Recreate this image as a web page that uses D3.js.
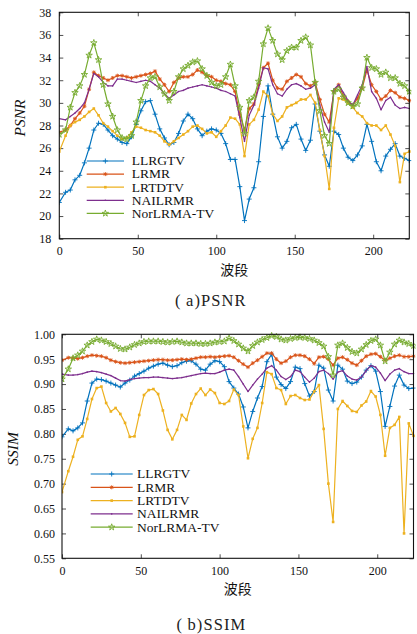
<!DOCTYPE html>
<html>
<head>
<meta charset="utf-8">
<script src="https://cdn.jsdelivr.net/npm/d3@7/dist/d3.min.js"></script>
<style>
  html, body { margin: 0; padding: 0; background: #ffffff; }
  svg { display: block; }
</style>
</head>
<body>
<svg id="chart" width="417" height="634"></svg>
<script>
// ---------------- DATA ----------------
const bands = [0,4,7,10,13,16,19,22,25,28, 31,34,37,40,43,46,49,52,55,58,
  61,64,67,70,73,76,79,82,85,88, 91,94,97,100,103,106,109,112,115,118,
  121,124,127,130,133,136,139,142,145,148, 151,154,157,160,163,166,169,172,175,178,
  181,184,187,190,193,196,199,202,205,208, 211,214,217,220,223];

const methods = ["LLRGTV", "LRMR", "LRTDTV", "NAILRMR", "NorLRMA-TV"];

const xTicks = [0, 50, 100, 150, 200];
const psnrTicks = [18, 20, 22, 24, 26, 28, 30, 32, 34, 36, 38];
const ssimTicks = [0.55, 0.60, 0.65, 0.70, 0.75, 0.80, 0.85, 0.90, 0.95, 1.00];

const psnrLLRGTV = [21.2,22.1,22.3,23.2,23.6,24.7,26.0,27.6,28.2,28.1,
  27.6,27.1,26.8,26.5,26.4,27.0,28.1,29.3,30.1,30.2,
  29.0,27.7,26.9,26.3,26.5,27.3,28.4,29.0,28.6,27.7,
  27.1,27.5,27.7,27.6,27.3,26.4,25.0,25.0,22.6,19.6,
  21.5,22.5,24.8,28.8,31.5,29.0,27.0,26.0,26.6,27.8,
  28.1,26.8,25.8,26.7,29.9,27.5,25.4,24.4,27.5,27.2,
  26.0,25.2,24.9,25.4,26.2,28.1,26.6,24.8,24.0,25.3,
  25.9,26.4,25.3,25.1,24.9];
const psnrLRMR = [27.4,27.6,28.0,28.6,29.1,29.7,31.2,32.7,32.4,32.2,
  32.0,32.2,32.4,32.4,32.3,32.2,32.3,32.4,32.5,32.6,
  32.8,32.1,31.6,31.0,31.8,32.2,32.3,32.3,32.5,32.9,
  32.7,32.4,32.3,32.0,31.9,31.7,31.6,31.0,29.0,27.6,
  29.5,29.9,31.6,33.1,33.5,32.0,31.3,31.2,31.9,32.2,
  32.5,32.3,31.7,31.5,31.8,30.3,29.0,28.3,31.0,31.6,
  30.6,30.1,29.8,30.4,31.3,32.9,31.6,31.0,30.3,30.6,
  31.1,30.9,30.5,30.4,30.2];
const psnrLRTDTV = [25.7,27.1,28.0,28.3,28.5,28.8,29.2,29.5,28.9,28.2,
  27.9,27.5,27.1,26.8,26.9,27.4,27.9,27.8,27.6,27.5,
  27.4,27.1,26.6,26.3,26.6,26.9,27.2,27.5,27.9,28.0,
  27.7,27.3,27.4,27.0,27.5,28.0,28.7,28.6,28.1,25.3,
  28.1,28.5,29.4,31.0,30.6,29.0,28.4,28.8,29.6,29.8,
  30.0,30.3,30.3,30.7,30.0,27.6,25.3,22.4,27.8,30.4,
  30.3,30.0,29.6,29.1,28.8,28.2,28.0,28.0,27.6,28.0,
  27.2,26.2,23.0,25.5,25.7];
const psnrNAILRMR = [28.6,28.5,28.8,29.1,29.5,30.0,31.2,32.6,32.3,31.8,
  31.5,31.5,32.1,32.1,32.0,31.9,31.8,31.9,32.0,31.9,
  31.6,31.3,30.8,30.4,30.7,31.0,31.1,31.3,31.4,31.5,
  31.6,31.5,31.4,31.3,31.1,31.0,30.8,30.6,28.7,26.6,
  28.9,29.8,31.3,33.1,33.0,31.6,30.8,30.6,31.2,31.6,
  31.7,31.5,31.2,31.3,31.6,29.8,28.3,27.4,31.2,31.6,
  30.9,30.2,29.8,30.7,31.6,33.2,31.0,30.4,29.4,30.2,
  30.5,29.8,29.5,29.6,29.5];
const psnrNorLRMATV = [27.2,27.6,29.6,30.9,31.5,32.5,34.2,35.3,33.8,31.6,
  29.9,28.8,27.6,26.9,26.8,27.1,28.3,30.2,31.5,32.2,
  32.3,31.4,30.8,30.2,31.0,32.3,33.0,33.3,33.6,33.7,
  33.0,32.4,31.8,31.5,31.6,32.3,33.4,31.5,29.6,27.3,
  30.2,30.5,31.9,35.2,36.6,35.5,34.3,33.8,34.6,34.9,
  34.9,35.5,35.8,35.1,31.8,29.3,27.1,26.4,31.0,31.2,
  30.5,30.0,29.7,29.9,31.3,34.0,33.1,33.0,32.5,32.7,
  32.2,32.2,31.7,31.5,31.0];

const ssimLLRGTV = [0.794,0.810,0.806,0.812,0.822,0.866,0.902,0.910,0.909,0.906,
  0.902,0.898,0.894,0.902,0.908,0.916,0.921,0.926,0.932,0.936,
  0.940,0.942,0.938,0.935,0.937,0.943,0.946,0.947,0.940,0.930,
  0.928,0.940,0.947,0.945,0.935,0.905,0.892,0.880,0.854,0.812,
  0.845,0.872,0.895,0.945,0.960,0.914,0.899,0.891,0.905,0.934,
  0.931,0.901,0.876,0.885,0.938,0.932,0.888,0.866,0.938,0.930,
  0.906,0.901,0.904,0.914,0.928,0.937,0.926,0.885,0.815,0.855,
  0.896,0.918,0.898,0.891,0.892];
const ssimLRMR = [0.948,0.953,0.952,0.951,0.953,0.956,0.958,0.957,0.956,0.953,
  0.948,0.945,0.943,0.942,0.943,0.944,0.945,0.946,0.947,0.948,
  0.949,0.949,0.948,0.948,0.949,0.950,0.949,0.950,0.952,0.954,
  0.954,0.955,0.954,0.955,0.956,0.957,0.954,0.947,0.940,0.934,
  0.942,0.948,0.955,0.962,0.962,0.950,0.942,0.946,0.954,0.958,
  0.958,0.956,0.950,0.941,0.954,0.955,0.950,0.938,0.952,0.954,
  0.949,0.942,0.938,0.947,0.956,0.960,0.961,0.955,0.948,0.952,
  0.956,0.958,0.955,0.955,0.956];
const ssimLRTDTV = [0.683,0.725,0.754,0.788,0.795,0.830,0.870,0.892,0.895,0.862,
  0.845,0.852,0.840,0.822,0.794,0.795,0.838,0.878,0.888,0.890,
  0.880,0.847,0.808,0.789,0.808,0.838,0.828,0.861,0.880,0.891,
  0.878,0.889,0.882,0.862,0.860,0.866,0.889,0.878,0.815,0.751,
  0.790,0.812,0.862,0.924,0.920,0.892,0.888,0.860,0.876,0.878,
  0.872,0.868,0.869,0.885,0.898,0.810,0.700,0.623,0.850,0.866,
  0.856,0.846,0.844,0.857,0.865,0.886,0.875,0.838,0.756,0.812,
  0.818,0.834,0.600,0.821,0.796];
const ssimNAILRMR = [0.920,0.918,0.918,0.919,0.921,0.924,0.926,0.925,0.923,0.920,
  0.917,0.912,0.907,0.906,0.909,0.911,0.912,0.913,0.913,0.914,
  0.914,0.913,0.912,0.911,0.912,0.913,0.915,0.917,0.919,0.921,
  0.922,0.921,0.921,0.924,0.928,0.930,0.928,0.915,0.900,0.885,
  0.898,0.910,0.920,0.932,0.937,0.928,0.915,0.909,0.915,0.928,
  0.925,0.914,0.904,0.912,0.925,0.928,0.921,0.910,0.924,0.927,
  0.916,0.910,0.908,0.914,0.927,0.937,0.934,0.922,0.907,0.920,
  0.928,0.931,0.925,0.921,0.921];
const ssimNorLRMATV = [0.910,0.930,0.952,0.958,0.966,0.978,0.985,0.990,0.988,0.985,
  0.981,0.976,0.971,0.970,0.974,0.979,0.982,0.985,0.986,0.986,
  0.986,0.985,0.984,0.985,0.986,0.984,0.982,0.982,0.982,0.981,
  0.981,0.982,0.984,0.985,0.986,0.992,0.987,0.980,0.972,0.966,
  0.977,0.984,0.989,0.993,0.997,0.995,0.990,0.988,0.991,0.993,
  0.994,0.993,0.991,0.988,0.983,0.976,0.955,0.918,0.978,0.982,
  0.973,0.965,0.962,0.970,0.979,0.987,0.990,0.978,0.946,0.964,
  0.980,0.988,0.984,0.981,0.977];

// ---------------- STYLE ----------------
const colors = {"LLRGTV": "#0072BD", "LRMR": "#D95319", "LRTDTV": "#EDB120", "NAILRMR": "#7E2F8E", "NorLRMA-TV": "#77AC30"};
const markers = {"LLRGTV": "plus", "LRMR": "asterisk", "LRTDTV": "square", "NAILRMR": "dot", "NorLRMA-TV": "star"};
const SERIF = '"Liberation Serif", "Times New Roman", serif';
const CJK = '"Noto Sans CJK SC", sans-serif';

const charts = [
  { series: [psnrLLRGTV, psnrLRMR, psnrLRTDTV, psnrNAILRMR, psnrNorLRMATV],
    yTicks: psnrTicks, fmt: d3.format("d"), yDomain: [18, 38],
    box: {left: 59.3, right: 409.3, top: 12.3, bottom: 238.7},
    ylabel: "PSNR", ylabelPos: [25, 118], xlabelY: 275, caption: "(\u2009a)PSNR", captionX: 175, captionY: 306,
    legend: {x1: 86.7, x2: 124, tx: 131.7, y0: 161, dy: 13.1}, padY: 8 },
  { series: [ssimLLRGTV, ssimLRMR, ssimLRTDTV, ssimNAILRMR, ssimNorLRMATV],
    yTicks: ssimTicks, fmt: d3.format(".2f"), yDomain: [0.55, 1.00],
    box: {left: 62, right: 413.5, top: 334.3, bottom: 558.3},
    ylabel: "SSIM", ylabelPos: [18, 449], xlabelY: 594, caption: "(\u2009b)SSIM", captionX: 176.5, captionY: 630,
    legend: {x1: 90.7, x2: 132.7, tx: 137, y0: 474, dy: 13.3}, padY: 7 }
];

const svg = d3.select("#chart");
const starSym = d3.symbol().type(d3.symbolStar).size(13);

function drawMarker(g, type, color, cx, cy) {
  if (type === "plus") {
    g.append("path").attr("d", `M${cx-2.5},${cy}H${cx+2.5}M${cx},${cy-2.5}V${cy+2.5}`)
      .attr("stroke", color).attr("stroke-width", 0.9).attr("fill", "none");
  } else if (type === "asterisk") {
    const r = 2, d = 1.45;
    g.append("path").attr("d", `M${cx-r},${cy}H${cx+r}M${cx},${cy-r}V${cy+r}M${cx-d},${cy-d}L${cx+d},${cy+d}M${cx-d},${cy+d}L${cx+d},${cy-d}`)
      .attr("stroke", color).attr("stroke-width", 0.9).attr("fill", "none");
  } else if (type === "square") {
    g.append("rect").attr("x", cx - 1.3).attr("y", cy - 1.3).attr("width", 2.6).attr("height", 2.6)
      .attr("fill", color);
  } else if (type === "dot") {
    g.append("circle").attr("cx", cx).attr("cy", cy).attr("r", 0.8).attr("fill", color);
  } else if (type === "star") {
    g.append("path").attr("d", starSym).attr("transform", `translate(${cx},${cy})`)
      .attr("fill", "none").attr("stroke", color).attr("stroke-width", 0.9);
  }
}

charts.forEach(cfg => {
  const b = cfg.box;
  const x = d3.scaleLinear().domain([0, 223]).range([b.left, b.right]);
  const y = d3.scaleLinear().domain(cfg.yDomain).range([b.bottom, b.top]);
  const g = svg.append("g");

  // axes with inward ticks on all four sides
  const axB = g.append("g").attr("transform", `translate(0,${b.bottom})`)
    .call(d3.axisBottom(x).tickValues(xTicks).tickSizeInner(-4).tickSizeOuter(0).tickPadding(8).tickFormat(d3.format("d")));
  const axT = g.append("g").attr("transform", `translate(0,${b.top})`)
    .call(d3.axisTop(x).tickValues(xTicks).tickSizeInner(-4).tickSizeOuter(0).tickFormat(""));
  const axL = g.append("g").attr("transform", `translate(${b.left},0)`)
    .call(d3.axisLeft(y).tickValues(cfg.yTicks).tickSizeInner(-4).tickSizeOuter(0).tickPadding(cfg.padY).tickFormat(cfg.fmt));
  const axR = g.append("g").attr("transform", `translate(${b.right},0)`)
    .call(d3.axisRight(y).tickValues(cfg.yTicks).tickSizeInner(-4).tickSizeOuter(0).tickFormat(""));
  [axB, axT, axL, axR].forEach(a => {
    a.attr("font-family", SERIF).attr("font-size", 12);
    a.select(".domain").remove();
    a.selectAll("line").attr("stroke", "#222").attr("stroke-width", 0.8);
    a.selectAll("text").style("font-family", SERIF).style("font-size", "12px").attr("fill", "#111");
  });

  // series
  const clipId = "clip" + Math.round(b.top);
  g.append("clipPath").attr("id", clipId).append("rect")
    .attr("x", b.left).attr("y", b.top - 4).attr("width", b.right - b.left + 2).attr("height", b.bottom - b.top + 4);
  const plot = g.append("g").attr("clip-path", `url(#${clipId})`);
  const line = d3.line().x((d, i) => x(bands[i])).y(d => y(d));
  cfg.series.forEach((vals, si) => {
    const name = methods[si];
    const col = colors[name];
    plot.append("path").datum(vals).attr("d", line)
      .attr("fill", "none").attr("stroke", col).attr("stroke-width", 1.2).attr("stroke-linejoin", "round");
    const mg = plot.append("g");
    vals.forEach((v, i) => drawMarker(mg, markers[name], col, x(bands[i]), y(v)));
  });

  // frame
  g.append("rect").attr("x", b.left).attr("y", b.top)
    .attr("width", b.right - b.left).attr("height", b.bottom - b.top)
    .attr("fill", "none").attr("stroke", "#111").attr("stroke-width", 1.1);

  // legend
  const L = cfg.legend;
  methods.forEach((name, i) => {
    const ly = L.y0 + i * L.dy;
    const col = colors[name];
    g.append("line").attr("x1", L.x1).attr("x2", L.x2).attr("y1", ly).attr("y2", ly)
      .attr("stroke", col).attr("stroke-width", 1.2);
    drawMarker(g, markers[name], col, (L.x1 + L.x2) / 2, ly);
    g.append("text").attr("x", L.tx).attr("y", ly + 4.3)
      .style("font-family", SERIF).style("font-size", "13.5px").attr("fill", "#111").text(name);
  });

  // axis labels
  g.append("text")
    .attr("transform", `translate(${cfg.ylabelPos[0]},${cfg.ylabelPos[1]}) rotate(-90)`)
    .attr("text-anchor", "middle").style("font-family", SERIF).style("font-style", "italic")
    .style("font-size", "15.5px").attr("fill", "#111").text(cfg.ylabel);
  g.append("text").attr("x", (b.left + b.right) / 2).attr("y", cfg.xlabelY)
    .attr("text-anchor", "middle").style("font-family", CJK).style("font-size", "14px").attr("fill", "#111").text("波段");

  // caption
  g.append("text").attr("x", cfg.captionX).attr("y", cfg.captionY)
    .attr("text-anchor", "start").style("font-family", SERIF).style("font-size", "16.5px")
    .style("letter-spacing", "1.1px").attr("fill", "#222").text(cfg.caption);
});
</script>
</body>
</html>
